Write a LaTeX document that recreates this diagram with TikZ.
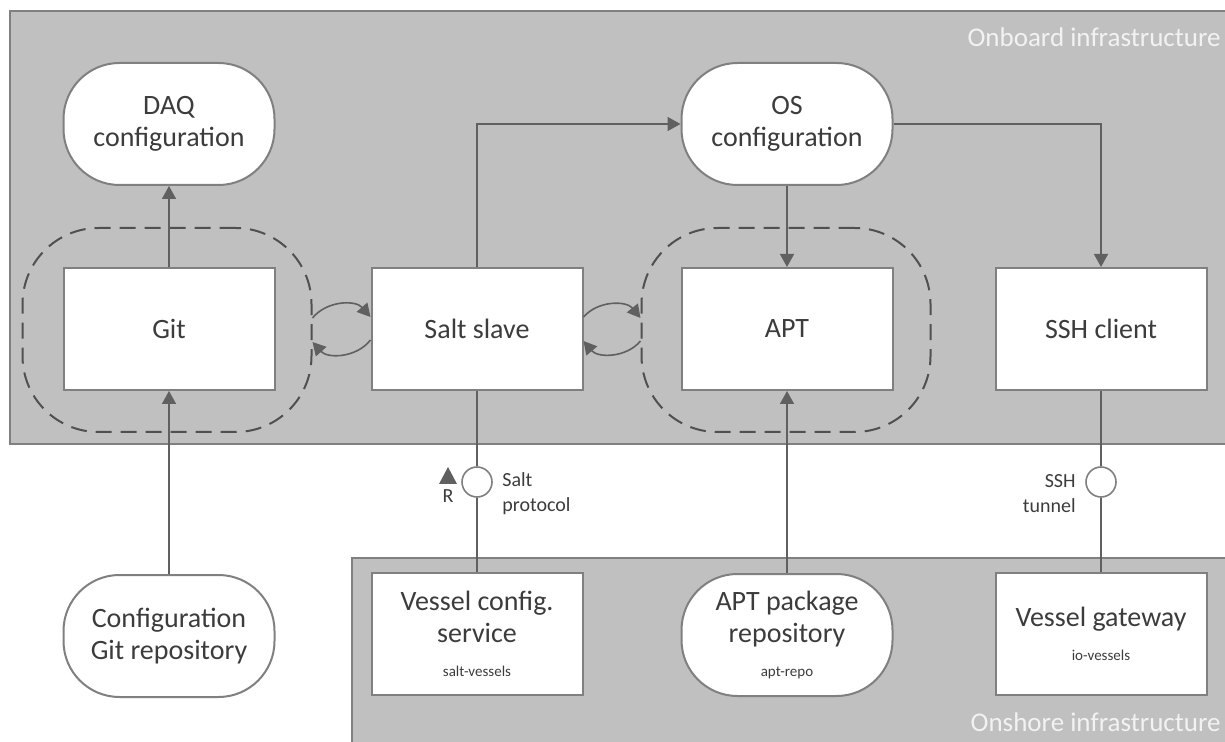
\documentclass[tikz,border=0pt]{standalone}
\usepackage{fontspec}
\setmainfont{Carlito}
\usetikzlibrary{arrows.meta,calc}
\tikzset {>={Triangle[length=6.5pt,width=7pt]}}
\definecolor{zonegray}{RGB}{192,192,192}
\definecolor{edgegray}{RGB}{128,128,128}
\definecolor{linegray}{RGB}{96,96,96}
\definecolor{dashgray}{RGB}{80,80,80}
\definecolor{textgray}{RGB}{60,60,60}
\tikzset{
  zone/.style={fill=zonegray,draw=edgegray,line width=1pt},
  zonelabel/.style={text=white!95!black,font=\fontsize{13.5}{16}\selectfont,inner sep=0pt},
  box/.style={draw=edgegray,fill=white,line width=1pt,minimum width=105.5pt,minimum height=61pt,
    align=center,text=textgray,font=\fontsize{14}{16}\selectfont},
  pill/.style={box,rounded corners=28pt},
  dashzone/.style={draw=dashgray,dash pattern=on 8pt off 4.5pt,line width=1pt,rounded corners=38pt,
    minimum width=144.5pt,minimum height=102pt},
  link/.style={draw=linegray,line width=0.8pt},
  ring/.style={circle,draw=edgegray,fill=white,line width=0.8pt,minimum size=15pt,inner sep=0pt},
  iflabel/.style={text=textgray,font=\fontsize{10}{12.5}\selectfont,inner sep=0pt},
}
\newcommand{\tagline}[1]{\\[1pt]{\fontsize{7.5}{10}\selectfont #1}}

\begin{document}
\begin{tikzpicture}[x=0.5pt,y=-0.5pt]
\useasboundingbox (0,0) rectangle (1225,742);

% onboard / onshore
\draw[zone] (10,11) rectangle (1240,444);
\draw[zone] (352,558) rectangle (1240,760);
\node[zonelabel,anchor=east] (onboard) at (1221,37) {Onboard infrastructure};
\node[zonelabel,anchor=east] (onshore) at (1221,722) {Onshore infrastructure};

% dashed groups
\node[dashzone] (gitzone) at (167,330) {};
\node[dashzone] (aptzone) at (786,330) {};

% onboard nodes
\node[pill] (daq) at (169,124) {DAQ\\configuration};
\node[pill] (os) at (787,124) {OS\\configuration};
\node[box] (git) at (169,329) {Git};
\node[box] (salt) at (477,329) {Salt slave};
\node[box] (apt) at (787,329) {APT};
\node[box] (ssh) at (1101,329) {SSH client};

% onshore nodes
\node[pill] (gitrepo) at (169,636) {Configuration\\Git repository};
\node[box] (vcs) at (477,634) {Vessel config.\\service\tagline{salt-vessels}};
\node[pill] (aptrepo) at (787,635) {APT package\\repository\tagline{apt-repo}};
\node[box] (gw) at (1101,634) {Vessel gateway\tagline{io-vessels}};

% interfaces
\node[ring] (saltif) at (477,482) {};
\node[ring] (sshif) at (1101,482) {};
\node[iflabel,anchor=west,align=left] (saltlbl) at (502,494) {Salt\\protocol};
\node[iflabel,anchor=east,align=right] (sshlbl) at (1076,494) {SSH\\tunnel};
\fill[linegray] (439,484) -- (448,467) -- (457,484) -- cycle;
\node[iflabel] (rlbl) at (448,496) {R};

% connectors
\draw[link,->] (git) -- (daq);
\draw[link,->] (gitrepo) -- (git);
\draw[link,->] (salt.north) |- (os.west);
\draw[link,->] (os) -- (apt);
\draw[link,->] (os.east) -| (ssh.north);
\draw[link,->] (aptrepo) -- (apt);
\draw[link] (salt) -- (saltif) -- (vcs);
\draw[link] (ssh) -- (sshif) -- (gw);

% loops between salt and the groups
\draw[link,->] ([yshift=6pt]gitzone.east) to[bend left=50] ([yshift=6pt]salt.west);
\draw[link,->] ([yshift=-5.5pt]salt.west) to[bend left=50] ([yshift=-6pt]gitzone.east);
\draw[link,->] ([yshift=6pt]salt.east) to[bend left=50] ([yshift=6pt]aptzone.west);
\draw[link,->] ([yshift=-5.5pt]aptzone.west) to[bend left=50] ([yshift=-6pt]salt.east);
\end{tikzpicture}
\end{document}
